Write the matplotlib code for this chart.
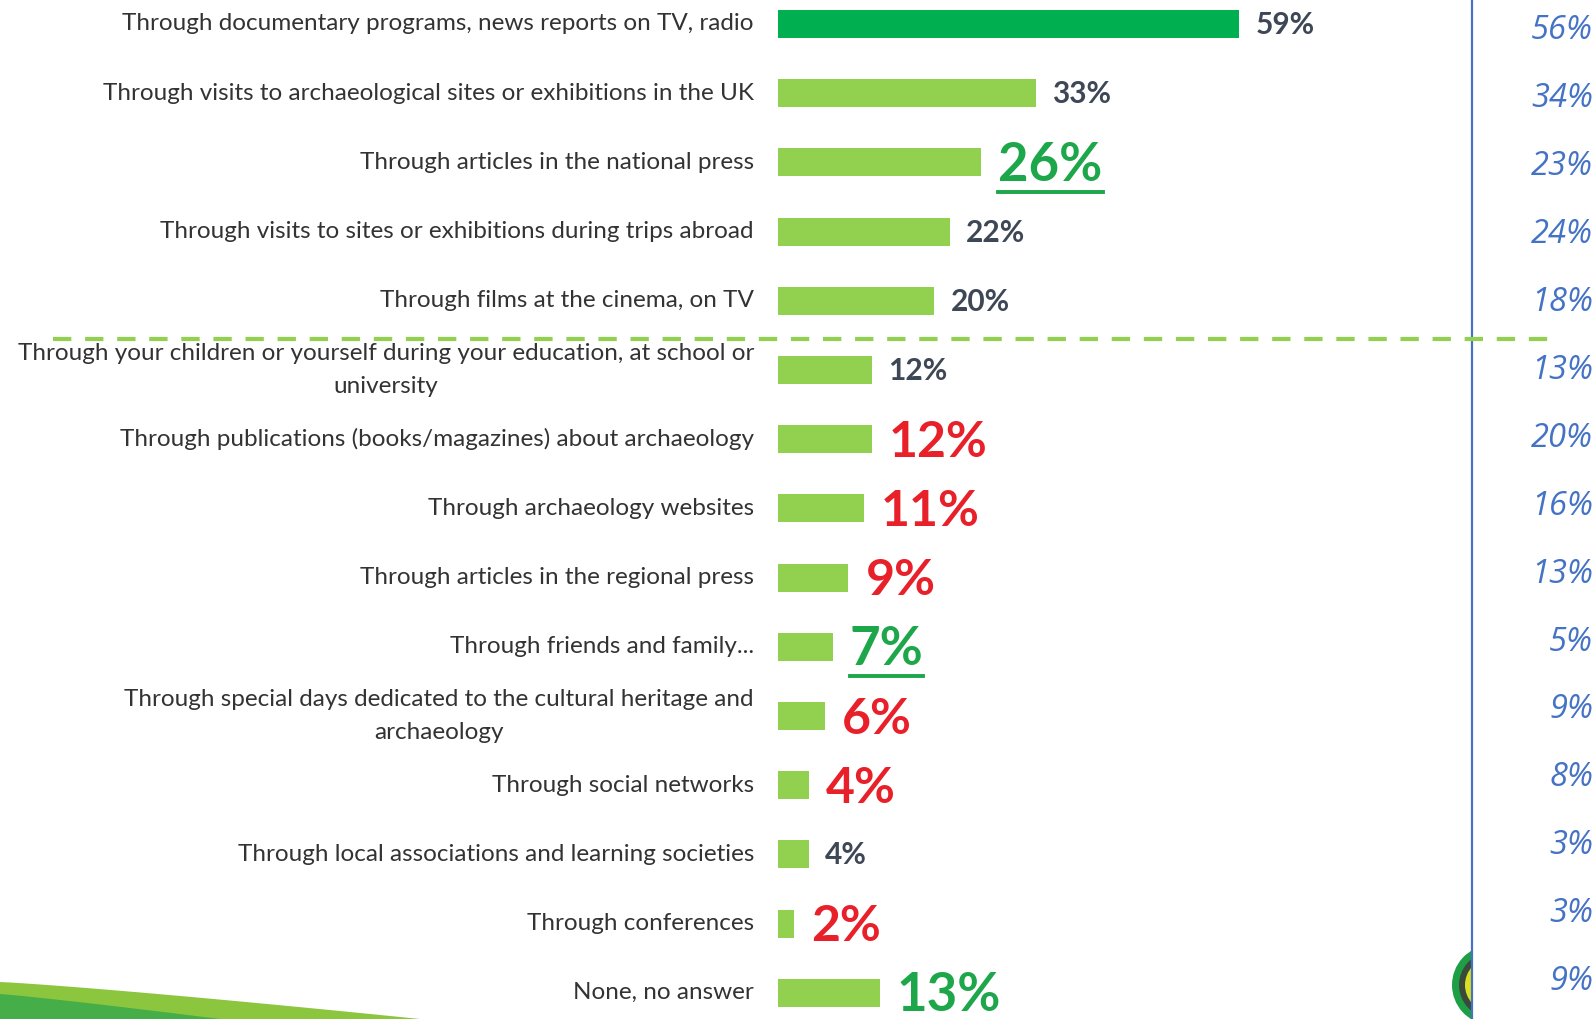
import matplotlib
matplotlib.use("Agg")
import matplotlib.pyplot as plt
from matplotlib.patches import Polygon, Wedge, Rectangle
from matplotlib.lines import Line2D
import numpy as np

categories = [
    "Through documentary programs, news reports on TV, radio",
    "Through visits to archaeological sites or exhibitions in the UK",
    "Through articles in the national press",
    "Through visits to sites or exhibitions during trips abroad",
    "Through films at the cinema, on TV",
    "Through your children or yourself during your education, at school or\nuniversity",
    "Through publications (books/magazines) about archaeology",
    "Through archaeology websites",
    "Through articles in the regional press",
    "Through friends and family...",
    "Through special days dedicated to the cultural heritage and\narchaeology",
    "Through social networks",
    "Through local associations and learning societies",
    "Through conferences",
    "None, no answer",
]
values = [59, 33, 26, 22, 20, 12, 12, 11, 9, 7, 6, 4, 4, 2, 13]
comparison = [56, 34, 23, 24, 18, 13, 20, 16, 13, 5, 9, 8, 3, 3, 9]
# label emphasis: 'n' normal, 'r' red big, 'g' green big, 'gu' green big underlined
emphasis = ["n", "n", "gu", "n", "n", "n", "r", "r", "r", "gu", "r", "r", "n", "r", "g"]

W, H = 1595, 1019
fig = plt.figure(figsize=(W / 100, H / 100), dpi=100)
fig.patch.set_facecolor("white")

x0_px, x1_px = 778, 1440
px_per_pct = 7.82
row0_px, row_step = 24.0, 69.2

ax = fig.add_axes([x0_px / W, 0, (x1_px - x0_px) / W, 1])
ax.set_xlim(0, (x1_px - x0_px) / px_per_pct)
ax.set_ylim((H - row0_px) / row_step, -row0_px / row_step)
ax.axis("off")
ax.patch.set_visible(False)
ax.set_zorder(2)

ypos = np.arange(len(categories))
colors = ["#00B050"] + ["#92D050"] * (len(values) - 1)
ax.barh(ypos, values, height=28 / row_step, color=colors, left=0)

label_font = "Lato"
for i, lab in enumerate(categories):
    ax.annotate(lab, xy=(0, i), xytext=(-24, 0), textcoords="offset pixels",
                ha="right", va="center", multialignment="center",
                fontsize=17.5, color="#333333", family=label_font,
                linespacing=1.65)

underline_texts = []
for i, (v, e) in enumerate(zip(values, emphasis)):
    if e == "n":
        t = ax.annotate(f"{v}%", xy=(v, i), xytext=(16, -1), textcoords="offset pixels",
                        ha="left", va="center", fontsize=21.5, fontweight="bold",
                        color="#3E4756", family=label_font)
    else:
        col = "#E8202A" if e == "r" else "#1DA64A"
        fs = 36 if e == "r" else 38
        t = ax.annotate(f"{v}%", xy=(v, i), xytext=(17, -3), textcoords="offset pixels",
                        ha="left", va="center", fontsize=fs, fontweight="bold",
                        color=col, family=label_font)
        if e == "gu":
            underline_texts.append((t, col))

# comparison column (right) on its own axes
cmp_row0, cmp_step = 30.5, 67.95
ax2 = fig.add_axes([1472 / W, 0, (W - 1472) / W, 1])
ax2.set_xlim(0, 1)
ax2.set_ylim((H - cmp_row0) / cmp_step, -cmp_row0 / cmp_step)
ax2.axis("off")
ax2.patch.set_visible(False)
ax2.set_zorder(3)
for i, c in enumerate(comparison):
    ax2.text(0.985, i, f"{c}%", ha="right", va="center",
             fontsize=23.5, fontstyle="italic", color="#4472C4", family="Open Sans",
             clip_on=False)

# decorative swoosh bottom-left
xs = np.linspace(0, 1, 40)
upper = [(x * 420 / W, 1 - (982 + 37 * x ** 1.15) / H) for x in xs]
poly_light = Polygon(upper + [(0, 0)], closed=True, transform=fig.transFigure,
                     facecolor="#8CC63F", edgecolor="none", zorder=-3)
fig.patches.append(poly_light)
lower = [(x * 220 / W, 1 - (994 + 25 * x ** 1.1) / H) for x in xs]
poly_dark = Polygon(lower + [(0, 0)], closed=True, transform=fig.transFigure,
                    facecolor="#45AE48", edgecolor="none", zorder=-3)
fig.patches.append(poly_dark)

# logo fragment bottom-right (partially hidden by panel)
cx, cy = 1492, 985
for r, w, col in [(40, 8, "#1E9E45"), (33, 7, "#3a4a3a"), (27, 6, "#D9E021")]:
    wd = Wedge((cx, H - cy), r, 95, 265, width=w, transform=None,
               facecolor=col, edgecolor="none", zorder=-3)
    fig.patches.append(wd)
panel = Rectangle((1472 / W, 0), 1 - 1472 / W, 1, transform=fig.transFigure,
                  facecolor="white", edgecolor="none", zorder=-2)
fig.patches.append(panel)

# vertical separator line
fig.add_artist(Line2D([1472 / W, 1472 / W], [0, 1], transform=fig.transFigure,
                      color="#4472C4", lw=1.6, zorder=4))
# dashed divider line
fig.add_artist(Line2D([53 / W, 1548 / W], [1 - 339 / H, 1 - 339 / H],
                      transform=fig.transFigure, color="#92D050", lw=3,
                      dashes=(4.4, 3.3), zorder=5))

fig.canvas.draw()
renderer = fig.canvas.get_renderer()
for t, col in underline_texts:
    bb = t.get_window_extent(renderer)
    yb = bb.y0 - 2
    fig.add_artist(Line2D([bb.x0 / W, bb.x1 / W], [yb / H, yb / H],
                          transform=fig.transFigure, color=col, lw=2.8, zorder=6))

fig.savefig("out.png", dpi=100, facecolor="white")
